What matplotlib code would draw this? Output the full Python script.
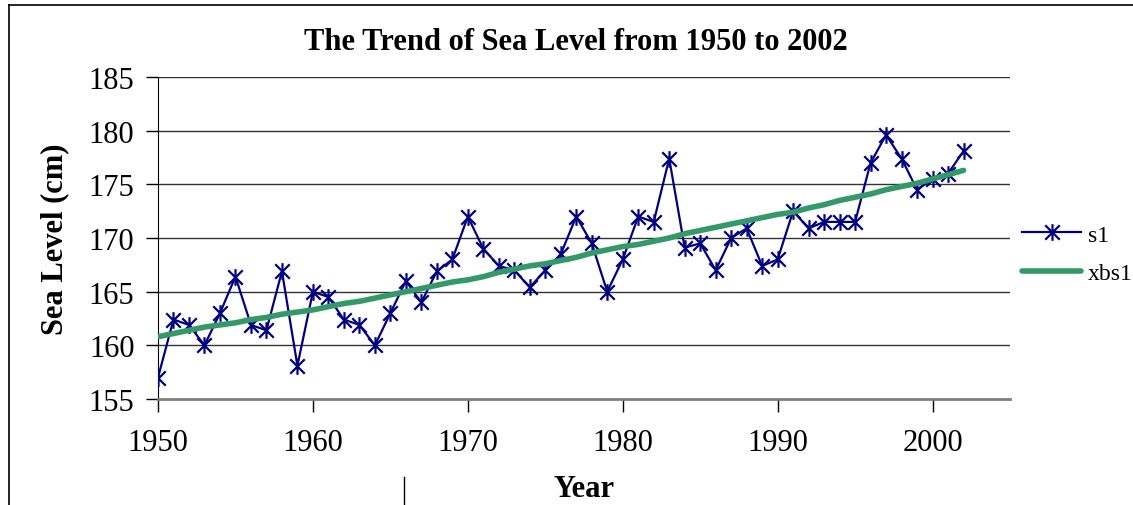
import matplotlib
matplotlib.use("Agg")
import matplotlib.pyplot as plt
from matplotlib.path import Path
from matplotlib.lines import Line2D

# -----------------------------------------------------------------------------
# Data
years = list(range(1950, 2003))
sl = [157.0, 162.4, 161.9, 160.0, 163.0, 166.4, 161.9, 161.4, 166.9, 158.1,
      165.0, 164.5, 162.4, 161.9, 160.0, 163.0, 166.0, 164.0, 166.9, 168.0,
      172.0, 169.0, 167.4, 167.0, 165.4, 167.0, 168.5, 172.0, 169.5, 165.0,
      168.0, 172.0, 171.5, 177.4, 169.1, 169.5, 167.0, 170.0, 170.9, 167.4,
      168.0, 172.5, 170.9, 171.5, 171.5, 171.5, 177.0, 179.6, 177.4, 174.5,
      175.5, 176.0, 178.1]
xbsl = [160.8, 161.1, 161.4, 161.7, 161.9, 162.1, 162.4, 162.6, 162.9, 163.1,
        163.3, 163.6, 163.9, 164.1, 164.4, 164.7, 165.0, 165.3, 165.6, 165.9,
        166.1, 166.4, 166.8, 167.1, 167.4, 167.6, 167.9, 168.2, 168.6, 168.9,
        169.2, 169.4, 169.7, 170.0, 170.4, 170.7, 171.0, 171.3, 171.6, 171.9,
        172.2, 172.4, 172.8, 173.1, 173.5, 173.8, 174.1, 174.5, 174.8, 175.1,
        175.5, 175.9, 176.3]
xticks = [1950, 1960, 1970, 1980, 1990, 2000]
yticks = [155, 160, 165, 170, 175, 180, 185]

# -----------------------------------------------------------------------------
# Excel style asterisk marker: an X with a vertical bar through it
star = Path([(-1, -1), (1, 1), (-1, 1), (1, -1), (0, -1.15), (0, 1.15)],
            [Path.MOVETO, Path.LINETO, Path.MOVETO, Path.LINETO, Path.MOVETO, Path.LINETO])

plt.rcParams['font.family'] = ['Liberation Serif', 'DejaVu Serif']

fig = plt.figure(figsize=(11.33, 5.06), dpi=100)
ax = fig.add_axes([158 / 1133, 1 - 400 / 506, 852 / 1133, 322 / 506])

ax.plot(years, sl, color='#000080', lw=1.6, marker=star, markersize=12,
        markeredgewidth=1.6, markeredgecolor='#000080', label='s1', zorder=3)
ax.plot(years, xbsl, color='#339966', lw=4, solid_capstyle='round',
        label='xbs1', zorder=4)

ax.set_xlim(1950, 2005)
ax.set_ylim(155, 185)
ax.set_xticks(xticks)
ax.set_yticks(yticks)
ax.tick_params(axis='both', direction='out', length=9, width=1, labelsize=22)
ax.tick_params(axis='x', pad=12)
ax.tick_params(axis='y', pad=8)

ax.grid(axis='y', color='#333333', lw=1)
ax.set_axisbelow(True)
for side in ['top', 'right']:
    ax.spines[side].set_visible(False)
ax.spines['left'].set_color('black')
ax.spines['bottom'].set_color('#808080')
ax.spines['bottom'].set_linewidth(2)

ax.set_xlabel('Year', fontsize=22, fontweight='bold', labelpad=12)
ax.set_ylabel('Sea Level (cm)', fontsize=22, fontweight='bold', labelpad=14)
fig.text(576 / 1133, 1 - 42 / 506, 'The Trend of Sea Level from 1950 to 2002',
         ha='center', va='center', fontsize=22, fontweight='bold')

fig.legend(loc='center left', bbox_to_anchor=(1022 / 1133, 1 - 255 / 506),
           frameon=False, fontsize=17, handlelength=2.5, handletextpad=0.3,
           labelspacing=0.7, borderpad=0, borderaxespad=0)

# Outer border of the chart object
fig.add_artist(Line2D([9 / 1133, 9 / 1133], [0, 1 - 6 / 506], color='black', lw=1.2))
fig.add_artist(Line2D([9 / 1133, 1], [1 - 6 / 506, 1 - 6 / 506], color='black', lw=1.2))
fig.add_artist(Line2D([404 / 1133, 404 / 1133], [0, 1 - 478 / 506], color='black', lw=1))

fig.savefig('out.png', dpi=100)
